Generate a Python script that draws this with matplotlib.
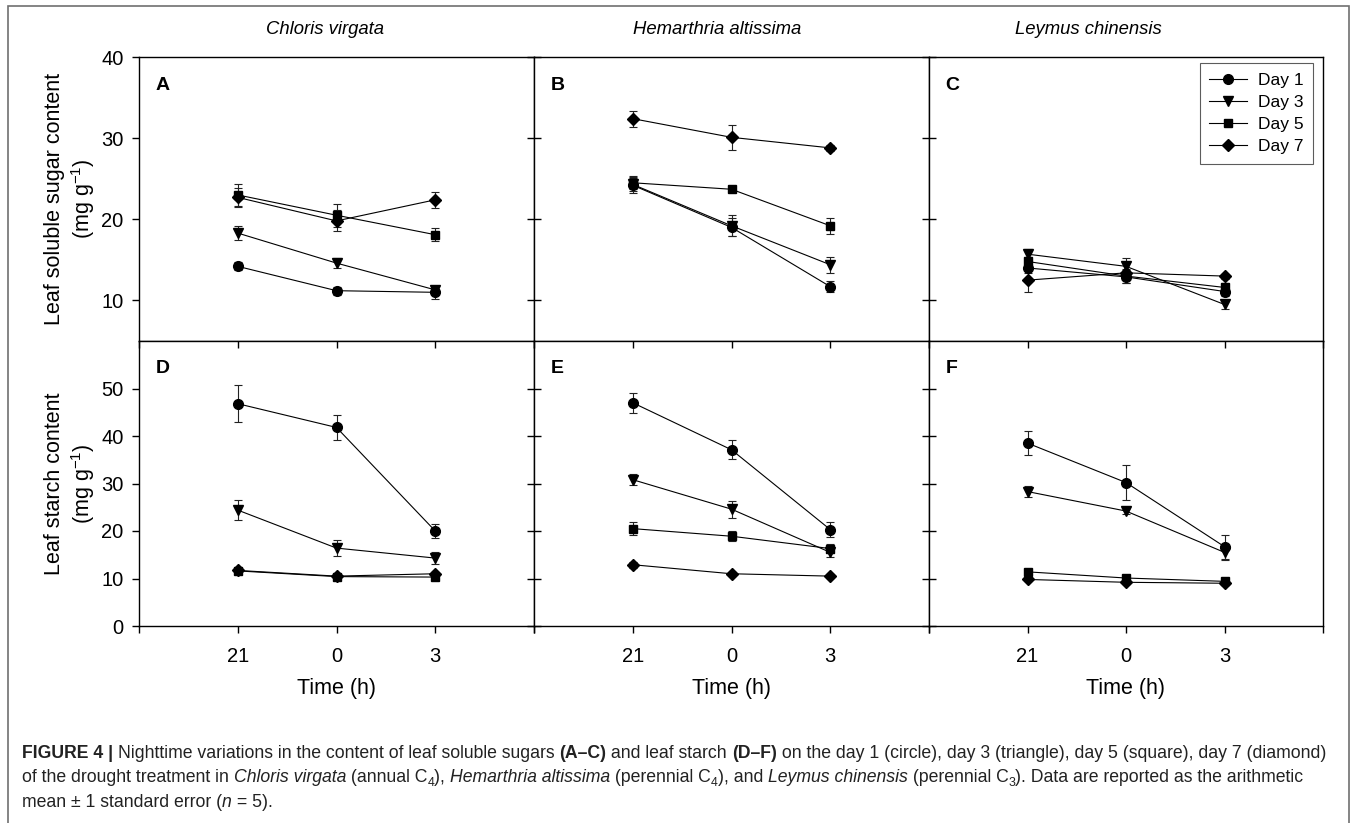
import matplotlib
matplotlib.use("Agg")
import matplotlib.pyplot as plt
import numpy as np
from matplotlib.transforms import IdentityTransform
from matplotlib.patches import Rectangle
from matplotlib.lines import Line2D

plt.rcParams['font.family'] = ['Liberation Sans', 'DejaVu Sans']
plt.rcParams['mathtext.fontset'] = 'custom'
plt.rcParams['mathtext.rm'] = 'Liberation Sans'
plt.rcParams['mathtext.it'] = 'Liberation Sans:italic'
plt.rcParams['mathtext.bf'] = 'Liberation Sans:bold'

# ---------------- data ----------------
times = ["21", "0", "3"]
days = ["Day 1", "Day 3", "Day 5", "Day 7"]
species = ["Chloris virgata", "Hemarthria altissima", "Leymus chinensis"]
panel_letters = ["A", "B", "C", "D", "E", "F"]

# leaf soluble sugar (mg g-1): rows = Day 1, 3, 5, 7 ; cols = 21, 0, 3 h
sugar_A_mean = [[14.2, 11.2, 11.0], [18.3, 14.6, 11.3], [23.0, 20.5, 18.1], [22.7, 19.8, 22.4]]
sugar_A_se = [[0.5, 0.5, 0.8], [0.9, 0.6, 0.5], [1.4, 1.4, 0.8], [1.2, 1.3, 1.0]]
sugar_B_mean = [[24.2, 19.0, 11.7], [24.3, 19.2, 14.4], [24.5, 23.7, 19.2], [32.4, 30.1, 28.8]]
sugar_B_se = [[1.0, 1.1, 0.7], [0.8, 1.3, 1.0], [0.8, 0.3, 1.0], [1.0, 1.5, 0.4]]
sugar_C_mean = [[14.0, 12.9, 11.1], [15.7, 14.2, 9.5], [14.8, 13.0, 11.6], [12.5, 13.4, 13.0]]
sugar_C_se = [[0.6, 0.7, 0.5], [0.6, 1.0, 0.6], [0.6, 0.8, 0.6], [1.5, 0.5, 0.3]]

# leaf starch (mg g-1)
starch_D_mean = [[46.8, 41.8, 20.0], [24.4, 16.4, 14.3], [11.6, 10.4, 10.3], [11.7, 10.5, 11.0]]
starch_D_se = [[3.9, 2.6, 1.5], [2.1, 1.7, 1.2], [0.6, 0.5, 0.5], [0.5, 0.5, 0.4]]
starch_E_mean = [[47.0, 37.1, 20.3], [30.8, 24.6, 15.5], [20.5, 18.9, 16.3], [12.9, 11.0, 10.5]]
starch_E_se = [[2.1, 2.0, 1.5], [1.2, 1.8, 1.0], [1.3, 1.1, 1.0], [0.6, 0.4, 0.4]]
starch_F_mean = [[38.5, 30.2, 16.7], [28.3, 24.2, 15.5], [11.4, 10.1, 9.4], [9.8, 9.2, 9.0]]
starch_F_se = [[2.5, 3.6, 2.5], [1.2, 0.6, 1.5], [0.5, 0.4, 0.4], [0.4, 0.4, 0.4]]

sugar_yticks = [10, 20, 30, 40]
starch_yticks = [0, 10, 20, 30, 40, 50]

# ---------------- figure ----------------
W, H = 1357, 823
fig = plt.figure(figsize=(W / 100, H / 100), dpi=100)

col_x = [139, 534, 929, 1323]
row_y = [57, 341, 626]

def px_axes(x0, y0, x1, y1):
    return fig.add_axes([x0 / W, 1 - y1 / H, (x1 - x0) / W, (y1 - y0) / H])

markers = ['o', 'v', 's', 'D']
msizes = [7, 7.5, 6, 6]

panels = [
    (sugar_A_mean, sugar_A_se), (sugar_B_mean, sugar_B_se), (sugar_C_mean, sugar_C_se),
    (starch_D_mean, starch_D_se), (starch_E_mean, starch_E_se), (starch_F_mean, starch_F_se),
]

xpos = np.arange(1, len(times) + 1)
axes = []
for i, (means, ses) in enumerate(panels):
    r, c = divmod(i, 3)
    ax = px_axes(col_x[c], row_y[r], col_x[c + 1], row_y[r + 1])
    axes.append(ax)
    for d in range(len(days)):
        ax.errorbar(xpos, means[d], yerr=ses[d], fmt='-', marker=markers[d],
                    ms=msizes[d], color='black', mfc='black', mec='black',
                    lw=0.8, elinewidth=0.8, ecolor='#222222', capsize=3.2,
                    capthick=0.8)
    ax.set_xlim(0, 4)
    for s in ax.spines.values():
        s.set_linewidth(1.0)
    if r == 0:
        ax.set_ylim(5, 40)
        ax.set_yticks(sugar_yticks)
        ax.set_xticks([])
    else:
        ax.set_ylim(0, 60)
        ax.set_yticks(starch_yticks)
        ax.set_xticks([0, 1, 2, 3, 4])
        ax.set_xticklabels([''] + times + [''])
        ax.tick_params(axis='x', direction='out', length=5, width=1,
                       labelsize=14.5, pad=10)
        sec = ax.secondary_xaxis('top')
        sec.set_xticks([0, 1, 2, 3, 4])
        sec.tick_params(axis='x', direction='in', length=5, width=1, labeltop=False)
        sec.spines['top'].set_visible(False)
        ax.set_xlabel("Time (h)", fontsize=15.5, labelpad=9)
    if c == 0:
        ax.tick_params(axis='y', direction='out', length=5, width=1,
                       labelsize=14.5, pad=6)
    else:
        ax.tick_params(axis='y', direction='inout', length=10, width=1,
                       labelleft=False)
    ax.text(0.042, 0.90 if r == 0 else 0.905, panel_letters[i], transform=ax.transAxes,
            fontsize=14, fontweight='bold', ha='left', va='center')

axes[0].set_ylabel("Leaf soluble sugar content\n(mg g$^{-1}$)", fontsize=15.5, labelpad=3)
axes[3].set_ylabel("Leaf starch content\n(mg g$^{-1}$)", fontsize=15.5, labelpad=3)

handles = [Line2D([], [], color='black', lw=0.8, marker=markers[d], ms=msizes[d],
                  mfc='black', mec='black') for d in range(len(days))]
leg = axes[2].legend(handles, days, loc='upper right',
                     bbox_to_anchor=(1 - 10 / 394, 1 - 6 / 284),
                     borderaxespad=0, fontsize=12.5, frameon=True, fancybox=False,
                     edgecolor='#333333', handlelength=2.2, handletextpad=0.6,
                     labelspacing=0.4, borderpad=0.55)
leg.get_frame().set_linewidth(0.8)

title_cx = [325, 717, 1088]
for sp, cx in zip(species, title_cx):
    fig.text(cx / W, 1 - 30 / H, sp, fontsize=13.3, style='italic',
             ha='center', va='center')

# ---------------- border ----------------
fig.patches.append(Rectangle((8 / W, -0.05), (1349 - 8) / W, 1 - 6 / H + 0.05,
                             transform=fig.transFigure, fill=False,
                             edgecolor='#707070', linewidth=1.2))

# ---------------- caption ----------------
cap_lines = [
    [("FIGURE 4 | ", "b"), ("Nighttime variations in the content of leaf soluble sugars ", "n"),
     ("(A\u2013C)", "b"), (" and leaf starch ", "n"), ("(D\u2013F)", "b"),
     (" on the day 1 (circle), day 3 (triangle), day 5 (square), day 7 (diamond)", "n")],
    [("of the drought treatment in ", "n"), ("Chloris virgata", "i"), (" (annual C", "n"),
     ("4", "s"), ("), ", "n"), ("Hemarthria altissima", "i"), (" (perennial C", "n"),
     ("4", "s"), ("), and ", "n"), ("Leymus chinensis", "i"), (" (perennial C", "n"),
     ("3", "s"), ("). Data are reported as the arithmetic", "n")],
    [("mean \u00b1 1 standard error (", "n"), ("n", "i"), (" = 5).", "n")],
]
cap_base_y = [758, 782.5, 807]
cap_size = 12.7
cap_color = '#222222'

renderer = fig.canvas.get_renderer()

def style_kw(kind):
    kw = dict(fontsize=cap_size, color=cap_color)
    if kind == 'b':
        kw['fontweight'] = 'bold'
    elif kind == 'i':
        kw['style'] = 'italic'
    elif kind == 's':
        kw['fontsize'] = cap_size * 0.7
    return kw

def text_width(s, kw):
    t1 = fig.text(0, 0, "|" + s + "|", transform=IdentityTransform(), **kw)
    t2 = fig.text(0, 0, "||", transform=IdentityTransform(), **kw)
    w = t1.get_window_extent(renderer).width - t2.get_window_extent(renderer).width
    t1.remove(); t2.remove()
    return w

for runs, by in zip(cap_lines, cap_base_y):
    x = 22.0
    for s, kind in runs:
        kw = style_kw(kind)
        yy = H - by
        if kind == 's':
            yy -= cap_size * 0.3
        fig.text(x, yy, s, transform=IdentityTransform(), va='baseline', ha='left', **kw)
        x += text_width(s, kw)

fig.savefig("out.png", dpi=100)
